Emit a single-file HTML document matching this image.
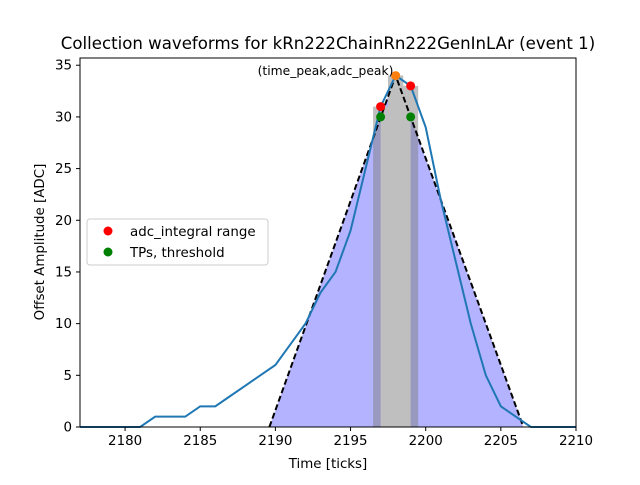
<!DOCTYPE html>
<html><head><meta charset="utf-8"><style>body{margin:0;background:#fff}svg{font-family:"DejaVu Sans","Liberation Sans",sans-serif}</style></head><body>
<svg id="c" width="640" height="480" xmlns="http://www.w3.org/2000/svg"></svg>
<script>
const times=[2177,2178,2179,2180,2181,2182,2183,2184,2185,2186,2187,2188,2189,2190,2191,2192,2193,2194,2195,2196,2197,2198,2199,2200,2201,2202,2203,2204,2205,2206,2207,2208,2209,2210];
const adc=[0,0,0,0,0,1,1,1,2,2,3,4,5,6,8,10,13,15,19,25,31,34,33,29,22,16,10,5,2,1,0,0,0,0];
const triangle=[[2189.6,0],[2198,34],[2206.5,0]];
const intTimes=[2197,2198,2199];
const intVals=[31,34,33];
const redPts=[[2197,31],[2199,33]];
const peakPt=[2198,34];
const greenPts=[[2197,30],[2199,30]];
const xTicks=[2180,2185,2190,2195,2200,2205,2210];
const yTicks=[0,5,10,15,20,25,30,35];
const X0=80,X1=576,Y0=427,Y1=58,xmin=2177,xmax=2210,ymin=0,ymax=35.7;
const sx=v=>X0+(v-xmin)/(xmax-xmin)*(X1-X0);
const sy=v=>Y0-(v-ymin)/(ymax-ymin)*(Y0-Y1);
const svg=document.getElementById('c');const NS='http://www.w3.org/2000/svg';
function mk(t,a,p){const e=document.createElementNS(NS,t);for(const k in a)e.setAttribute(k,a[k]);(p||svg).appendChild(e);return e;}
let e=mk('polygon',{points:triangle.map(p=>sx(p[0])+','+sy(p[1])).join(' '),fill:'#b3b3ff'});


intTimes.forEach((t,i)=>{
 let r=mk('rect',{x:sx(t-0.5),y:sy(intVals[i]),width:sx(t+0.5)-sx(t-0.5),height:sy(0)-sy(intVals[i]),fill:'#808080','fill-opacity':0.5});
 
 
});
let pts=[[intTimes[0],0],[intTimes[0],intVals[0]],[intTimes[0]+0.5,intVals[0]],[intTimes[0]+0.5,intVals[1]],[intTimes[2]-0.5,intVals[1]],[intTimes[2]-0.5,intVals[2]],[intTimes[2],intVals[2]],[intTimes[2],0]];
e=mk('polygon',{points:pts.map(p=>sx(p[0])+','+sy(p[1])).join(' '),fill:'#bfbfbf'});


e=mk('polyline',{points:triangle.map(p=>sx(p[0])+','+sy(p[1])).join(' '),fill:'none',stroke:'#000','stroke-width':2,'stroke-dasharray':'6,3'});


e=mk('polyline',{points:times.map((t,i)=>sx(t)+','+sy(adc[i])).join(' '),fill:'none',stroke:'#1f77b4','stroke-width':2});


redPts.forEach(p=>{let c=mk('circle',{cx:sx(p[0]),cy:sy(p[1]),r:4.5,fill:'#ff0000'});});
greenPts.forEach(p=>{let c=mk('circle',{cx:sx(p[0]),cy:sy(p[1]),r:4.5,fill:'#008000'});});
e=mk('circle',{cx:sx(peakPt[0]),cy:sy(peakPt[1]),r:4.5,fill:'#ff7f0e'});


e=mk('text',{x:325.5,y:75,'font-size':12.3,'text-anchor':'middle'});e.textContent='(time_peak,adc_peak)';


e=mk('rect',{x:X0,y:Y1,width:X1-X0,height:Y0-Y1,fill:'none',stroke:'#000','stroke-width':1});


xTicks.forEach(t=>{mk('line',{x1:sx(t),x2:sx(t),y1:Y0,y2:Y0+4,stroke:'#000'});let l=mk('text',{x:sx(t),y:Y0+18,'font-size':13.4,'text-anchor':'middle'});l.textContent=t;});
yTicks.forEach(t=>{mk('line',{x1:X0-4,x2:X0,y1:sy(t),y2:sy(t),stroke:'#000'});let l=mk('text',{x:X0-8,y:sy(t)+4.5,'font-size':13.4,'text-anchor':'end'});l.textContent=t;});
e=mk('text',{x:328,y:468,'font-size':13.4,'text-anchor':'middle'});e.textContent='Time [ticks]';


e=mk('text',{x:0,y:0,'font-size':13.4,'text-anchor':'middle',transform:'translate(44,242) rotate(-90)'});e.textContent='Offset Amplitude [ADC]';


e=mk('text',{x:328,y:49,'font-size':16.6,'text-anchor':'middle'});e.textContent='Collection waveforms for kRn222ChainRn222GenInLAr (event 1)';


const g=mk('g',{});


mk('rect',{x:87,y:219,width:181,height:46,rx:3,fill:'#fff','fill-opacity':0.8,stroke:'#ccc'},g);
mk('circle',{cx:108,cy:231,r:4.5,fill:'#ff0000'},g);
let t1=mk('text',{x:130,y:236,'font-size':13.4},g);t1.textContent='adc_integral range';


mk('circle',{cx:108,cy:252,r:4.5,fill:'#008000'},g);
let t2=mk('text',{x:130,y:257,'font-size':13.4},g);t2.textContent='TPs, threshold';


</script>
</body></html>
